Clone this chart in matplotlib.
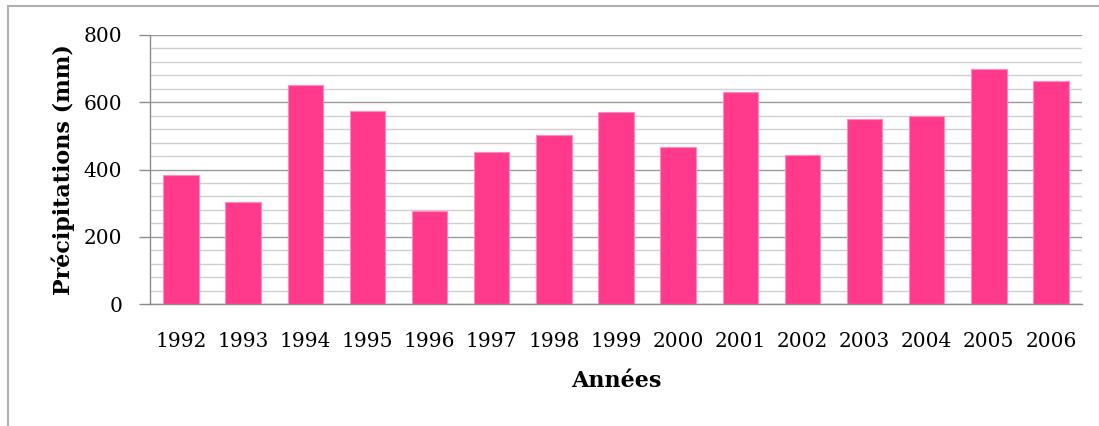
import matplotlib
matplotlib.use("Agg")
import matplotlib.pyplot as plt
from matplotlib.ticker import MultipleLocator
from matplotlib.patches import Rectangle

years = ["1992", "1993", "1994", "1995", "1996", "1997", "1998", "1999",
         "2000", "2001", "2002", "2003", "2004", "2005", "2006"]
precip = [384, 303, 651, 574, 277, 452, 503, 571, 467, 630, 443, 549, 559, 699, 663]

plt.rcParams['font.family'] = ['DejaVu Serif']

fig = plt.figure(figsize=(10.99, 4.26), dpi=100)
fig.patches.append(Rectangle((8/1099, -0.1), 1.2, 1.1 - 6/426, transform=fig.transFigure,
                             fill=False, edgecolor='#b0b0b0', linewidth=1.5, zorder=0))
ax = fig.add_axes([150/1099, 1 - 304/426, (1082 - 150)/1099, (304 - 35)/426])

x = list(range(len(years)))
ax.bar(x, precip, width=0.57, color='#FF3A8C', edgecolor='#FF8CBA', linewidth=0.8, zorder=3)

ax.set_xlim(-0.5, len(years) - 0.5)
ax.set_ylim(0, 800)
ax.yaxis.set_major_locator(MultipleLocator(200))
ax.yaxis.set_minor_locator(MultipleLocator(40))
ax.grid(which='major', axis='y', color='#9a9a9a', linewidth=1.0, zorder=1)
ax.grid(which='minor', axis='y', color='#cfcfcf', linewidth=1.0, zorder=1)
ax.set_xticks(x)
ax.set_xticklabels(years)

for s in ['top', 'right']:
    ax.spines[s].set_visible(False)
for s in ['left', 'bottom']:
    ax.spines[s].set_color('#8c8c8c')
    ax.spines[s].set_linewidth(1.0)

ax.tick_params(axis='x', length=0, pad=20, labelsize=14.5)
ax.tick_params(axis='y', which='major', length=8, color='#8c8c8c', width=1.0, pad=12, labelsize=14.5)
ax.tick_params(axis='y', which='minor', length=0)

ax.set_ylabel("Précipitations (mm)", fontsize=16, fontweight='bold', labelpad=6)
ax.set_xlabel("Années", fontsize=16, fontweight='bold', labelpad=14)

fig.savefig("out.png", dpi=100)
